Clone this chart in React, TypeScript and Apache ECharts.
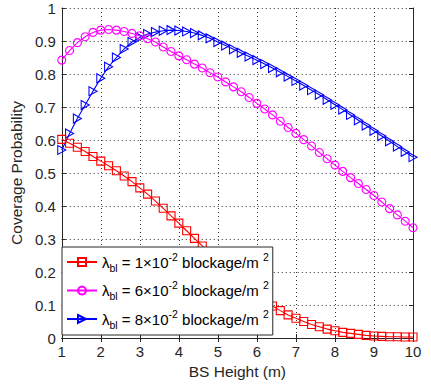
import React, { useEffect, useRef } from "react";
import * as echarts from "echarts";

const heights = [
  1.0, 1.2, 1.4, 1.6, 1.8, 2.0, 2.2, 2.4, 2.6, 2.8, 3.0, 3.2, 3.4, 3.6, 3.8, 4.0,
  4.2, 4.4, 4.6, 4.8, 5.0, 5.2, 5.4, 5.6, 5.8, 6.0, 6.2, 6.4, 6.6, 6.8, 7.0, 7.2,
  7.4, 7.6, 7.8, 8.0, 8.2, 8.4, 8.6, 8.8, 9.0, 9.2, 9.4, 9.6, 9.8, 10.0,
];

const lambda1 = [
  0.602, 0.59, 0.578, 0.565, 0.55, 0.536, 0.522, 0.507, 0.491, 0.474, 0.455, 0.436,
  0.415, 0.393, 0.37, 0.348, 0.325, 0.302, 0.279, 0.256, 0.233, 0.211, 0.189, 0.168,
  0.148, 0.13, 0.113, 0.097, 0.083, 0.07, 0.06, 0.05, 0.041, 0.034, 0.027, 0.022,
  0.017, 0.014, 0.011, 0.008, 0.006, 0.005, 0.004, 0.004, 0.003, 0.003,
];

const lambda6 = [
  0.842, 0.871, 0.895, 0.913, 0.926, 0.933, 0.935, 0.933, 0.929, 0.923, 0.916, 0.907,
  0.897, 0.882, 0.868, 0.855, 0.843, 0.83, 0.818, 0.804, 0.791, 0.776, 0.761, 0.746,
  0.729, 0.711, 0.694, 0.676, 0.657, 0.638, 0.62, 0.601, 0.582, 0.562, 0.543, 0.524,
  0.505, 0.486, 0.468, 0.45, 0.432, 0.412, 0.392, 0.373, 0.354, 0.334,
];

const lambda8 = [
  0.57, 0.62, 0.665, 0.706, 0.748, 0.787, 0.822, 0.85, 0.876, 0.897, 0.911, 0.921,
  0.927, 0.931, 0.933, 0.932, 0.929, 0.924, 0.917, 0.908, 0.897, 0.886, 0.875, 0.864,
  0.853, 0.842, 0.83, 0.818, 0.805, 0.792, 0.779, 0.765, 0.751, 0.737, 0.722, 0.707,
  0.692, 0.676, 0.66, 0.644, 0.628, 0.612, 0.596, 0.58, 0.564, 0.548,
];

const legendCoeffs = ["1", "6", "8"];
const seriesNames = ["lambda1", "lambda6", "lambda8"];
const colors = ["#ff0000", "#ff00ff", "#0000ff"];
const symbols = [
  "path://M0,0 L10,0 L10,10 L0,10 Z",
  "path://M5,0 A5,5 0 1,1 4.999,0 Z",
  "path://M0,0 L9,5 L0,10 Z",
];
const symbolSizes: any[] = [8, 8, [8, 9]];

const FONT = "'Liberation Sans', Arial, Helvetica, sans-serif";
const AXIS_COLOR = "#262626";

export default function App() {
  const ref = useRef<HTMLDivElement>(null);

  useEffect(() => {
    if (!ref.current) return;
    const chart = echarts.init(ref.current, undefined, { renderer: "svg" });
    const datasets = [lambda1, lambda6, lambda8];

    const series = datasets.map((vals, i) => ({
      name: seriesNames[i],
      type: "line",
      xAxisIndex: 0,
      yAxisIndex: 0,
      data: heights.map((h, j) => [h, vals[j]]),
      symbol: symbols[i],
      symbolSize: symbolSizes[i],
      showAllSymbol: true,
      lineStyle: { color: colors[i], width: 1.1 },
      itemStyle: { color: "rgba(255,255,255,0)", borderColor: colors[i], borderWidth: 1.1 },
      emphasis: { disabled: true },
      z: 3 - i,
    }));

    const legendLabel: Record<string, string> = {};
    seriesNames.forEach((n, i) => {
      legendLabel[n] = `{a|λ}{s|bl}{a| = ${legendCoeffs[i]}×10}{p|-2}{a| blockage/m }{p|2}`;
    });

    const tickLine = { show: true, lineStyle: { color: AXIS_COLOR, width: 1 } };

    chart.setOption({
      animation: false,
      backgroundColor: "#ffffff",
      grid: { left: 59, top: 8, width: 354, height: 330, containLabel: false },
      xAxis: [
        {
          type: "value",
          min: 1,
          max: 10,
          interval: 1,
          position: "bottom",
          name: "BS Height (m)",
          nameLocation: "middle",
          nameGap: 22,
          nameTextStyle: { fontFamily: FONT, fontSize: 15.5, color: AXIS_COLOR },
          axisLine: tickLine,
          axisTick: { show: true, inside: true, length: 4, lineStyle: { color: AXIS_COLOR } },
          axisLabel: { fontFamily: FONT, fontSize: 15, color: AXIS_COLOR, margin: 6 },
          splitLine: { show: true, lineStyle: { color: "#333", type: [1, 3], width: 1 } },
        },
        {
          type: "value",
          min: 1,
          max: 10,
          interval: 1,
          position: "top",
          axisLine: tickLine,
          axisTick: { show: true, inside: true, length: 4, lineStyle: { color: AXIS_COLOR } },
          axisLabel: { show: false },
          splitLine: { show: false },
        },
      ],
      yAxis: [
        {
          type: "value",
          min: 0,
          max: 1,
          interval: 0.1,
          position: "left",
          name: "Coverage Probability",
          nameLocation: "middle",
          nameGap: 28,
          nameTextStyle: { fontFamily: FONT, fontSize: 15.5, color: AXIS_COLOR },
          axisLine: tickLine,
          axisTick: { show: true, inside: true, length: 4, lineStyle: { color: AXIS_COLOR } },
          axisLabel: { fontFamily: FONT, fontSize: 15, color: AXIS_COLOR, margin: 6 },
          splitLine: { show: true, lineStyle: { color: "#333", type: [1, 3], width: 1 } },
        },
        {
          type: "value",
          min: 0,
          max: 1,
          interval: 0.1,
          position: "right",
          axisLine: tickLine,
          axisTick: { show: true, inside: true, length: 4, lineStyle: { color: AXIS_COLOR } },
          axisLabel: { show: false },
          splitLine: { show: false },
        },
      ],
      legend: {
        orient: "vertical",
        left: 62,
        top: 247,
        padding: [4, 4, 5, 4],
        itemGap: 6.5,
        itemWidth: 30,
        itemHeight: 10,
        backgroundColor: "#ffffff",
        borderColor: AXIS_COLOR,
        borderWidth: 1,
        borderRadius: 0,
        selectedMode: false,
        data: seriesNames,
        formatter: (name: string) => legendLabel[name],
        textStyle: {
          fontFamily: FONT,
          fontSize: 15,
          color: "#000",
          rich: {
            a: { fontFamily: FONT, fontSize: 15, color: "#000", lineHeight: 22, verticalAlign: "middle" },
            s: { fontFamily: FONT, fontSize: 10.5, color: "#000", verticalAlign: "bottom" },
            p: { fontFamily: FONT, fontSize: 10.5, color: "#000", verticalAlign: "top" },
          },
        },
      },
      series,
    });

    return () => chart.dispose();
  }, []);

  return (
    <div
      ref={ref}
      style={{ position: "fixed", left: 0, top: 0, width: 431, height: 386, background: "#fff" }}
    />
  );
}
